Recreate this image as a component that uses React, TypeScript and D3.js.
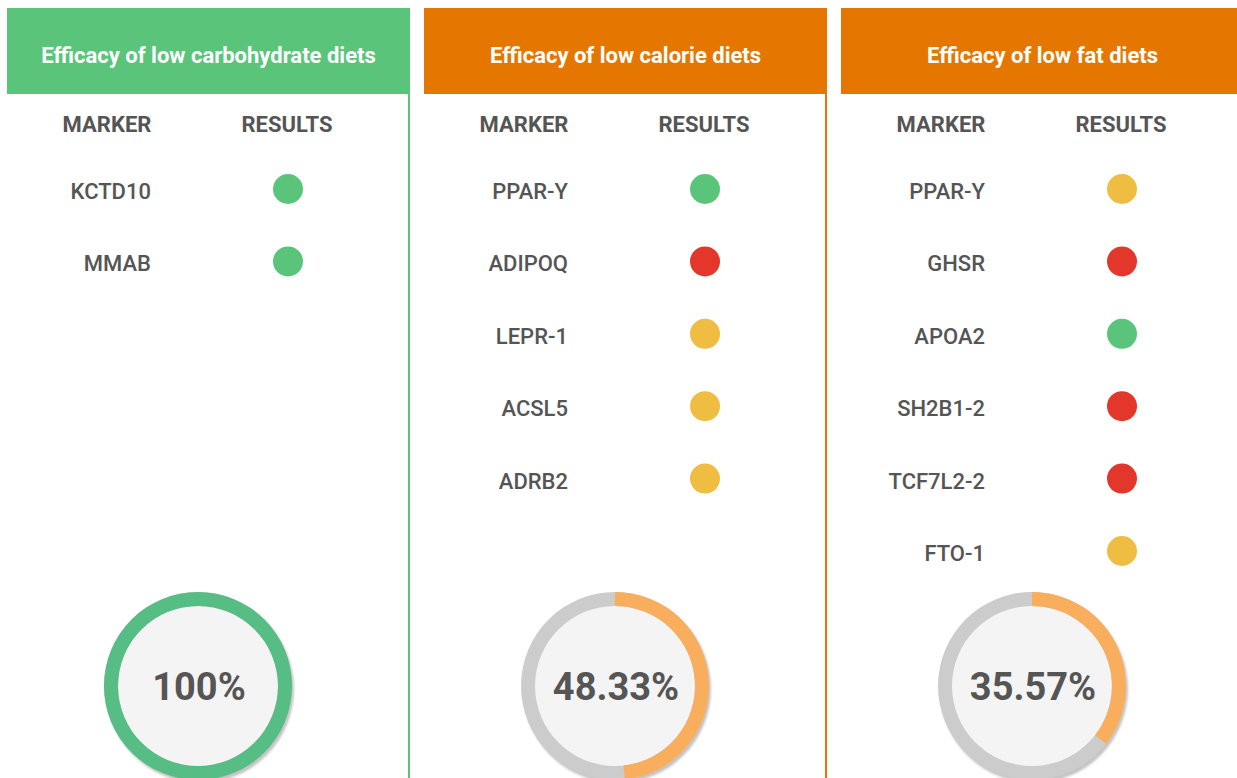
import * as d3 from "d3"

// Panel content
const panelTitles = ["Efficacy of low carbohydrate diets", "Efficacy of low calorie diets", "Efficacy of low fat diets"]
const headerColors = ["#59C47A", "#E57700", "#E57700"]
const gaugeColors = ["#56BE84", "#F9AE5E", "#F9AE5E"]

const carbMarkers = ["KCTD10", "MMAB"]
const carbResults = ["good", "good"]
const calorieMarkers = ["PPAR-Y", "ADIPOQ", "LEPR-1", "ACSL5", "ADRB2"]
const calorieResults = ["good", "bad", "neutral", "neutral", "neutral"]
const fatMarkers = ["PPAR-Y", "GHSR", "APOA2", "SH2B1-2", "TCF7L2-2", "FTO-1"]
const fatResults = ["neutral", "bad", "good", "bad", "bad", "neutral"]

const scores = [100, 48.33, 35.57]
const scoreLabels = ["100%", "48.33%", "35.57%"]

const resultColors: Record<string, string> = { good: "#5BC47B", bad: "#E4372C", neutral: "#EFBD42" }

const markersByPanel = [carbMarkers, calorieMarkers, fatMarkers]
const resultsByPanel = [carbResults, calorieResults, fatResults]

const W = 1237
const H = 778
const panelX = d3.scalePoint<number>().domain([0, 1, 2]).range([7, 841])
const panelW = 403
const rowY = d3.scaleLinear().domain([0, 5]).range([191, 553])
const pct = d3.scaleLinear().domain([0, 100]).range([0, 2 * Math.PI])

const font = "Roboto, 'Noto Sans', sans-serif"
const textColor = "#555555"

function Panel({ i }: { i: number }) {
  const x0 = panelX(i) || 0
  const markers = markersByPanel[i]
  const results = resultsByPanel[i]
  const cx = x0 + 191
  const cy = 686
  const outerR = 94
  const innerR = 80
  const ring = d3.arc<any>().innerRadius(innerR).outerRadius(outerR).startAngle(0)
  return (
    <g>
      <rect x={x0} y={8} width={panelW} height={86} fill={headerColors[i]} />
      <rect x={x0 + panelW - 2} y={8} width={2} height={H} fill={headerColors[i]} />
      <text x={x0 + panelW / 2} y={63} textAnchor="middle" fill="#fff" fontFamily={font} fontWeight={700} fontSize={22}>
        {panelTitles[i]}
      </text>
      <text x={x0 + 100} y={132} textAnchor="middle" fill={textColor} fontFamily={font} fontWeight={700} fontSize={22}>
        MARKER
      </text>
      <text x={x0 + 280} y={132} textAnchor="middle" fill={textColor} fontFamily={font} fontWeight={700} fontSize={22}>
        RESULTS
      </text>
      {markers.map((m, j) => (
        <g key={m + j}>
          <text x={x0 + 144} y={rowY(j) + 8} textAnchor="end" fill={textColor} fontFamily={font} fontWeight={500} fontSize={22}>
            {m}
          </text>
          <circle cx={x0 + 281} cy={rowY(j) - 2} r={15} fill={resultColors[results[j]]} />
        </g>
      ))}
      <circle cx={cx + 2} cy={cy + 3} r={outerR} fill="#c4c4c4" filter="url(#soft)" />
      <circle cx={cx} cy={cy} r={outerR} fill="#CCCCCC" />
      <circle cx={cx} cy={cy} r={innerR} fill="#F4F4F4" />
      <path d={ring({ endAngle: pct(scores[i]) }) || ""} transform={`translate(${cx},${cy})`} fill={gaugeColors[i]} />
      <text x={cx + 1} y={cy + 14} textAnchor="middle" fill={textColor} fontFamily={font} fontWeight={700} fontSize={38}>
        {scoreLabels[i]}
      </text>
    </g>
  )
}

export default function App() {
  return (
    <svg width={W} height={H} style={{ position: "absolute", left: 0, top: 0, background: "#fff" }}>
      <defs>
        <filter id="soft" x="-10%" y="-10%" width="120%" height="120%">
          <feGaussianBlur stdDeviation={1.2} />
        </filter>
      </defs>
      <rect width={W} height={H} fill="#fff" />
      {[0, 1, 2].map((i) => (
        <Panel key={i} i={i} />
      ))}
    </svg>
  )
}
